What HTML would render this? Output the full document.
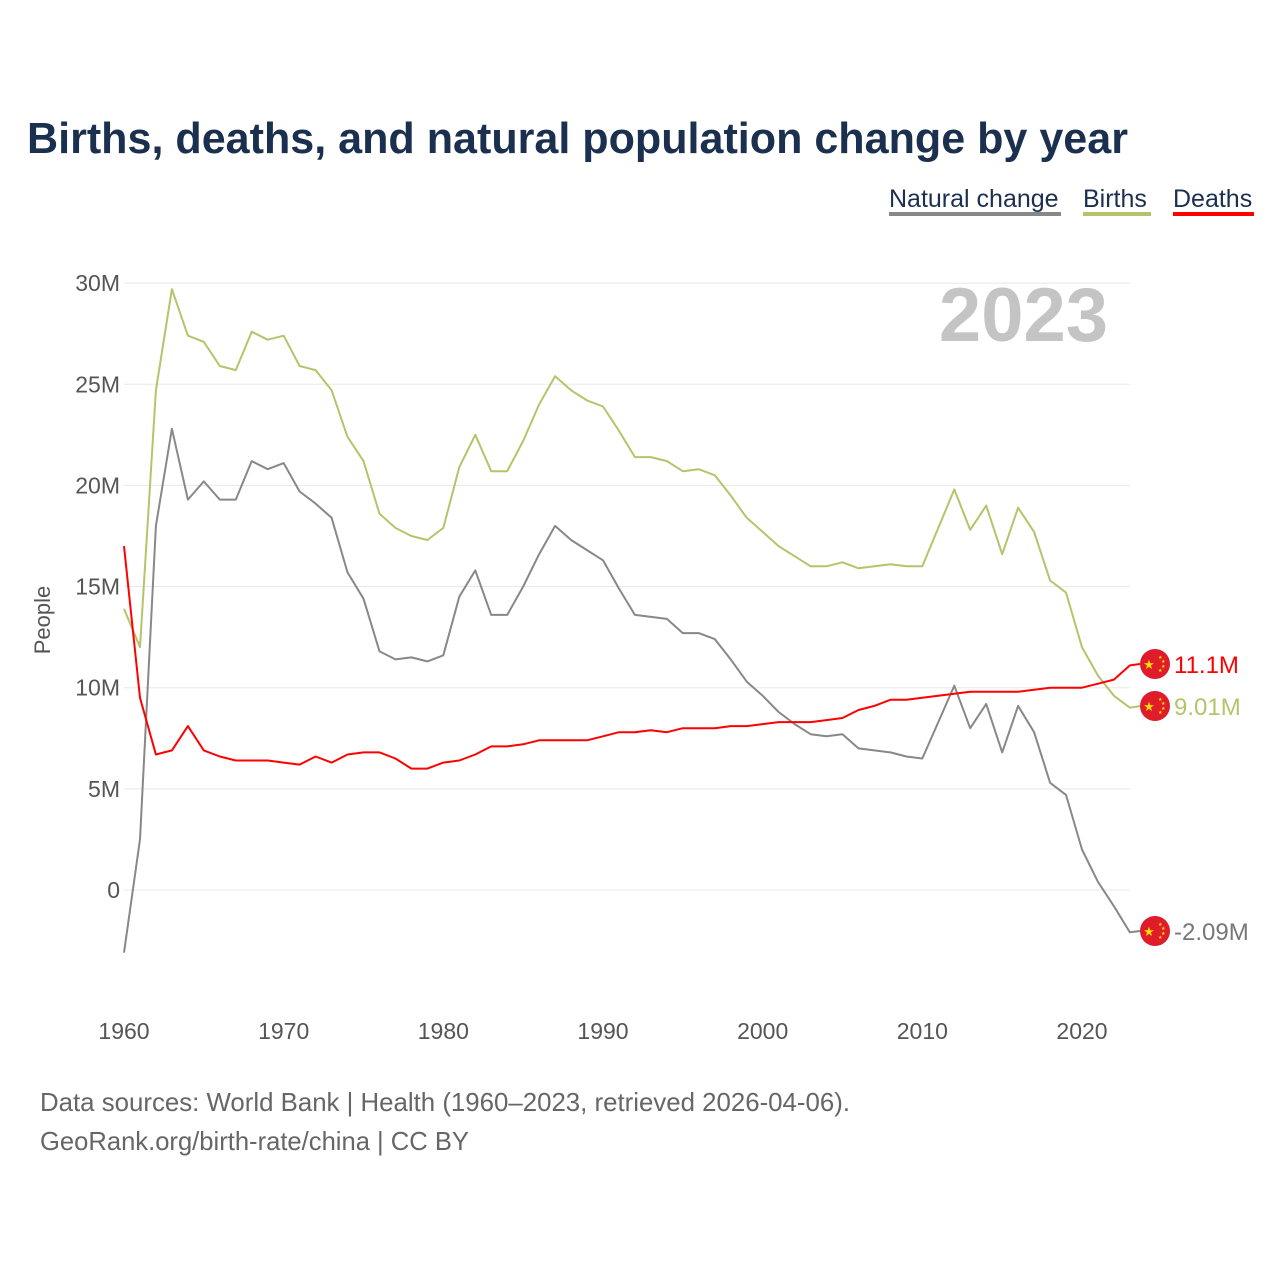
<!DOCTYPE html>
<html><head><meta charset="utf-8"><style>
body{margin:0;background:#fff;font-family:"Liberation Sans",sans-serif;}
</style></head><body>
<svg width="1280" height="1280" viewBox="0 0 1280 1280" id="svg">
<rect width="1280" height="1280" fill="#fff"/>
<text x="27" y="153" font-size="44" font-weight="bold" fill="#1b2f4f" textLength="1101" lengthAdjust="spacingAndGlyphs">Births, deaths, and natural population change by year</text>
<g font-size="25">
<text x="889" y="207" fill="#1b2f4f">Natural change</text>
<rect x="889" y="212" width="172" height="4" fill="#888"/>
<text x="1083" y="207" fill="#1b2f4f">Births</text>
<rect x="1083" y="212" width="68" height="4" fill="#b5c46b"/>
<text x="1173" y="207" fill="#1b2f4f">Deaths</text>
<rect x="1173" y="212" width="81" height="4" fill="#f00"/>
</g>
<text x="1108" y="341" font-size="76" font-weight="bold" fill="#c4c4c4" text-anchor="end">2023</text>
<text transform="translate(50,620) rotate(-90)" font-size="22" fill="#555" text-anchor="middle">People</text>
<g id="grid"></g><g id="lines"></g><g id="ends"></g>
<text x="40" y="1111" font-size="26" fill="#666" textLength="810" lengthAdjust="spacingAndGlyphs">Data sources: World Bank | Health (1960–2023, retrieved 2026-04-06).</text>
<text x="40" y="1150" font-size="26" fill="#666" textLength="429" lengthAdjust="spacingAndGlyphs">GeoRank.org/birth-rate/china | CC BY</text>
</svg>
<script>
const years=[];for(let y=1960;y<=2023;y++)years.push(y);
const births=[13.9,12.0,24.7,29.7,27.4,27.1,25.9,25.7,27.6,27.2,27.4,25.9,25.7,24.7,22.4,21.2,18.6,17.9,17.5,17.3,17.9,20.9,22.5,20.7,20.7,22.2,24.0,25.4,24.7,24.2,23.9,22.7,21.4,21.4,21.2,20.7,20.8,20.5,19.5,18.4,17.7,17.0,16.5,16.0,16.0,16.2,15.9,16.0,16.1,16.0,16.0,17.9,19.8,17.8,19.0,16.6,18.9,17.7,15.3,14.7,12.0,10.6,9.6,9.01];
const deaths=[17.0,9.5,6.7,6.9,8.1,6.9,6.6,6.4,6.4,6.4,6.3,6.2,6.6,6.3,6.7,6.8,6.8,6.5,6.0,6.0,6.3,6.4,6.7,7.1,7.1,7.2,7.4,7.4,7.4,7.4,7.6,7.8,7.8,7.9,7.8,8.0,8.0,8.0,8.1,8.1,8.2,8.3,8.3,8.3,8.4,8.5,8.9,9.1,9.4,9.4,9.5,9.6,9.7,9.8,9.8,9.8,9.8,9.9,10.0,10.0,10.0,10.2,10.4,11.1];
const natural=[-3.1,2.5,18.0,22.8,19.3,20.2,19.3,19.3,21.2,20.8,21.1,19.7,19.1,18.4,15.7,14.4,11.8,11.4,11.5,11.3,11.6,14.5,15.8,13.6,13.6,15.0,16.6,18.0,17.3,16.8,16.3,14.9,13.6,13.5,13.4,12.7,12.7,12.4,11.4,10.3,9.6,8.8,8.2,7.7,7.6,7.7,7.0,6.9,6.8,6.6,6.5,8.3,10.1,8.0,9.2,6.8,9.1,7.8,5.3,4.7,2.0,0.4,-0.8,-2.09];
const yTicks=[0,5,10,15,20,25,30];
const yTickLabels=["0","5M","10M","15M","20M","25M","30M"];
const xTicks=[1960,1970,1980,1990,2000,2010,2020];
const endLabels=["-2.09M","9.01M","11.1M"];
const NS="http://www.w3.org/2000/svg";
const X=v=>124+(v-1960)*(958/60);
const Y=v=>890-v*20.23;
const g=document.getElementById('grid'),L=document.getElementById('lines'),E=document.getElementById('ends');
function mk(tag,at,parent){const e=document.createElementNS(NS,tag);for(const k in at)e.setAttribute(k,at[k]);parent.appendChild(e);return e;}
yTicks.forEach((t,i)=>{
 const l=mk('line',{x1:124,x2:1130,y1:Y(t),y2:Y(t),stroke:'#e8e8e8','stroke-width':1},g);
 
 
 const tx=mk('text',{x:120,y:Y(t)+8,'font-size':23,fill:'#555','text-anchor':'end'},g);
 tx.textContent=yTickLabels[i];
 
 
});
xTicks.forEach(t=>{
 const tx=mk('text',{x:X(t),y:1039,'font-size':23,fill:'#555','text-anchor':'middle'},g);
 tx.textContent=t;
 
 
});
const series=[[natural,'#888','natural-change-line',931,'#777',0],[births,'#b5c46b','births-line',706,'#b5c46b',1],[deaths,'#f00','deaths-line',664,'#f00',2]];
series.forEach(([d,c,n,ly,tc,i])=>{
 let p=d.map((v,j)=>(j?'L':'M')+X(years[j]).toFixed(1)+','+Y(v).toFixed(1)).join('');
 p+='L1140,'+ly;
 const path=mk('path',{d:p,fill:'none',stroke:c,'stroke-width':2,'stroke-linejoin':'round'},L);
 
 
 const f=mk('g',{},E);
 
 
 mk('circle',{cx:1155,cy:ly,r:15,fill:'#de1c2a'},f);
 const st=mk('text',{x:1149,y:ly+5,'font-size':13,fill:'#ffde00','text-anchor':'middle'},f);st.textContent='★';
 [[1158,-7],[1161,-3],[1161,2],[1158,6]].forEach(([sx,sy])=>{const s=mk('text',{x:sx,y:ly+sy+2,'font-size':5,fill:'#ffde00'},f);s.textContent='★';});
 const t=mk('text',{x:1174,y:ly+9,'font-size':24,fill:tc},E);
 t.textContent=endLabels[i];
 
 
});
</script>
</body></html>
